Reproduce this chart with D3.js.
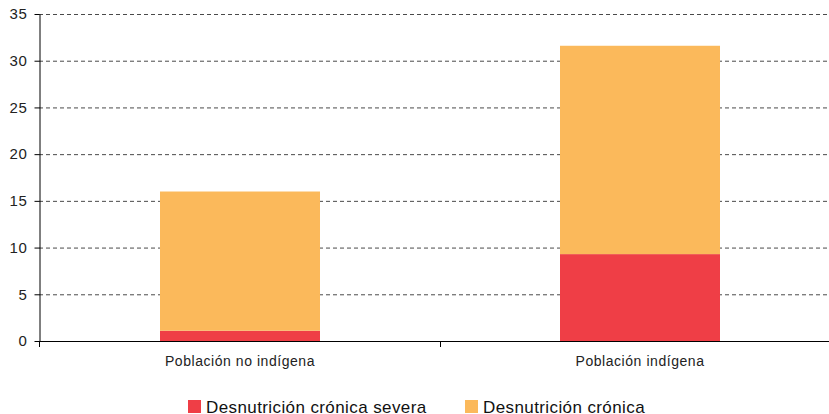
<!DOCTYPE html>
<html>
<head>
<meta charset="utf-8">
<script src="https://cdn.jsdelivr.net/npm/d3@7"></script>
<style>
  body { margin: 0; background: #fff; }
  svg { display: block; font-family: "Liberation Sans", Arial, sans-serif; }
</style>
</head>
<body>
<svg id="chart" width="829" height="414"></svg>
<script>
// Population groups on the x axis
const categories = ["Población no indígena", "Población indígena"];
// Stacked segment values (percent)
const severe = [1.1, 9.3];      // Desnutrición crónica severa
const chronic = [14.9, 22.3];   // Desnutrición crónica (stacked above severe)
const yTicks = [0, 5, 10, 15, 20, 25, 30, 35];
const seriesNames = ["Desnutrición crónica severa", "Desnutrición crónica"];
const seriesColors = ["#ef3e46", "#fbb95b"];

const svg = d3.select("#chart");
const x0 = 39, x1 = 829, yTop = 14, yBottom = 341;

const x = d3.scaleBand()
  .domain(categories)
  .range([40, 840])
  .paddingInner(0.6)
  .paddingOuter(0.3);

const y = d3.scaleLinear().domain([0, 35]).range([yBottom, yTop]);

// Dashed gridlines
svg.append("g")
  .selectAll("line")
  .data(yTicks.filter(d => d > 0))
  .join("line")
  .attr("x1", x0).attr("x2", x1)
  .attr("y1", d => y(d) + 0.5).attr("y2", d => y(d) + 0.5)
  .attr("stroke", "#4a4a4a")
  .attr("stroke-width", 1)
  .attr("stroke-dasharray", "4,3");

// Stacked bars
const rows = categories.map((c, i) => ({ cat: c, severe: severe[i], chronic: chronic[i] }));
const stack = d3.stack().keys(["severe", "chronic"])(rows);
svg.append("g")
  .selectAll("g")
  .data(stack)
  .join("g")
  .attr("fill", (d, i) => seriesColors[i])
  .selectAll("rect")
  .data(d => d)
  .join("rect")
  .attr("x", d => x(d.data.cat))
  .attr("width", x.bandwidth())
  .attr("y", d => y(d[1]))
  .attr("height", d => y(d[0]) - y(d[1]));

// Y axis
const yAxis = svg.append("g")
  .attr("transform", `translate(${x0 + 0.5},0)`)
  .call(d3.axisLeft(y).tickValues(yTicks).tickSize(5).tickSizeOuter(0));
yAxis.select(".domain").attr("stroke", "#000");
yAxis.selectAll(".tick line").attr("stroke", "#000");
yAxis.selectAll("text")
  .attr("x", -12)
  .attr("font-size", 15)
  .attr("letter-spacing", 0.6)
  .attr("font-family", "Liberation Sans, Arial, sans-serif")
  .attr("fill", "#222");

// X axis line with separator ticks
const xg = svg.append("g");
xg.append("line")
  .attr("x1", x0).attr("x2", x1)
  .attr("y1", yBottom + 0.5).attr("y2", yBottom + 0.5)
  .attr("stroke", "#000");
const seps = [x0, (x(categories[0]) + x.bandwidth() + x(categories[1])) / 2];
xg.selectAll("line.sep")
  .data(seps)
  .join("line")
  .attr("class", "sep")
  .attr("x1", d => Math.round(d) + 0.5).attr("x2", d => Math.round(d) + 0.5)
  .attr("y1", yBottom).attr("y2", yBottom + 6)
  .attr("stroke", "#000");
xg.selectAll("text")
  .data(categories)
  .join("text")
  .attr("x", d => x(d) + x.bandwidth() / 2)
  .attr("y", 366)
  .attr("text-anchor", "middle")
  .attr("font-size", 14)
  .attr("letter-spacing", 0.55)
  .attr("fill", "#222")
  .text(d => d);

// Legend
const legendX = [188, 465];
const lg = svg.append("g")
  .selectAll("g")
  .data(seriesNames)
  .join("g")
  .attr("transform", (d, i) => `translate(${legendX[i]},400)`);
lg.append("rect")
  .attr("width", 13).attr("height", 13)
  .attr("fill", (d, i) => seriesColors[i]);
lg.append("text")
  .attr("x", 18).attr("y", 12.5)
  .attr("font-size", 17)
  .attr("letter-spacing", 0.4)
  .attr("fill", "#111")
  .text(d => d);
</script>
</body>
</html>
